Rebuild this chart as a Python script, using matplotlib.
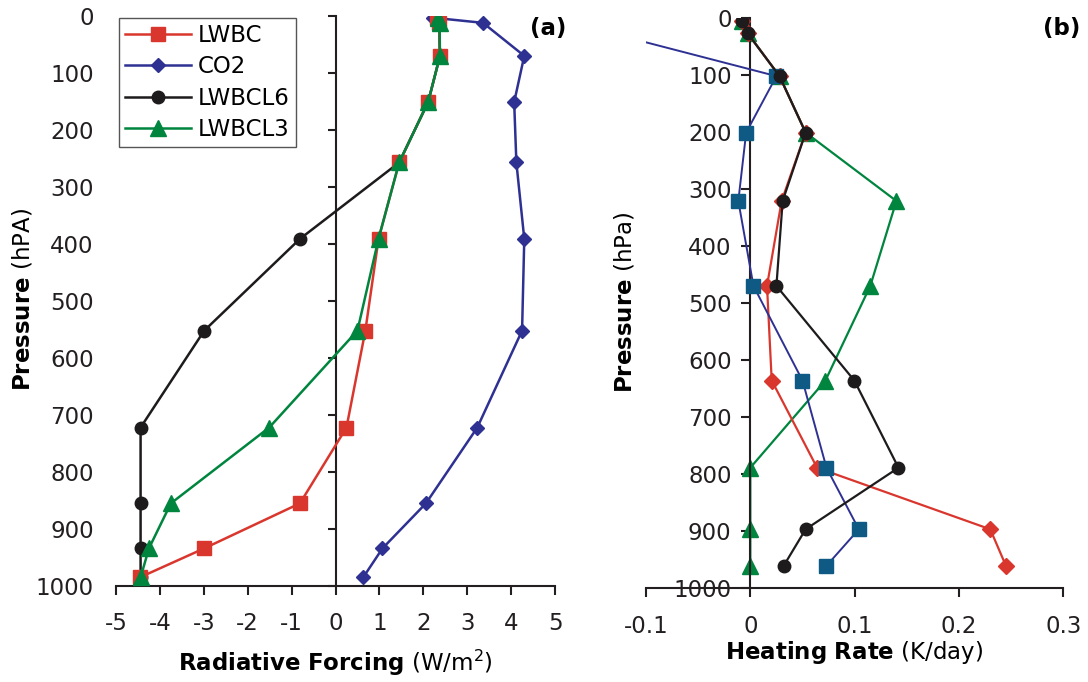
import matplotlib
matplotlib.use("Agg")
import matplotlib.pyplot as plt
from matplotlib.ticker import FixedLocator, FixedFormatter

plt.rcParams['font.family'] = ['DejaVu Sans']
plt.rcParams['mathtext.fontset'] = 'dejavusans'

# ---------------- data: panel (a) radiative forcing ----------------
p_a = [3, 12, 70, 151, 257, 391, 552, 722, 855, 934, 985]
lwbc_a = [2.32, 2.36, 2.38, 2.11, 1.45, 0.98, 0.68, 0.25, -0.81, -2.99, -4.46]
co2_a = [2.22, 3.36, 4.30, 4.07, 4.12, 4.30, 4.25, 3.23, 2.06, 1.07, 0.63]
lwbcl6_a = [2.32, 2.36, 2.38, 2.11, 1.45, -0.81, -2.99, -4.44, -4.44, -4.44, -4.44]
lwbcl3_a = [2.34, 2.37, 2.38, 2.11, 1.45, 0.98, 0.50, -1.51, -3.75, -4.25, -4.44]

# ---------------- data: panel (b) heating rate ----------------
p_b = [5, 27, 102, 201, 321, 470, 636, 789, 897, 961]
lwbc_b = [-0.008, -0.0025, 0.028, 0.053, 0.030, 0.016, 0.0205, 0.064, 0.230, 0.245]
co2_b = [-0.20, -0.133, 0.025, -0.004, -0.0115, 0.003, 0.050, 0.073, 0.104, 0.073]
lwbcl6_b = [-0.008, -0.0025, 0.028, 0.053, 0.031, 0.025, 0.0997, 0.142, 0.053, 0.032]
lwbcl3_b = [-0.008, -0.0025, 0.028, 0.053, 0.140, 0.115, 0.072, 0.0, 0.0, 0.0]

# ---------------- ticks ----------------
yticks = [0, 100, 200, 300, 400, 500, 600, 700, 800, 900, 1000]
ytick_labels = ['0', '100', '200', '300', '400', '500', '600', '700', '800', '900', '1000']
xticks_a = [-5, -4, -3, -2, -1, 0, 1, 2, 3, 4, 5]
xtick_labels_a = ['-5', '-4', '-3', '-2', '-1', '0', '1', '2', '3', '4', '5']
xticks_b = [-0.1, 0.0, 0.1, 0.2, 0.3]
xtick_labels_b = ['-0.1', '0', '0.1', '0.2', '0.3']

RED = '#d9372e'
BLUE = '#2e3192'
BLACK = '#1e1b1c'
GREEN = '#00853f'
TEAL = '#0f5a84'
INK = '#231f20'

FS = 16.5
W, H = 1088, 682
fig = plt.figure(figsize=(W / 100, H / 100), dpi=100)

def rect(l, t, r, b):
    return [l / W, 1 - b / H, (r - l) / W, (b - t) / H]

ax1 = fig.add_axes(rect(116, 16, 555, 586))
ax2 = fig.add_axes(rect(646, 18, 1063.3, 588))

for ax in (ax1, ax2):
    ax.set_ylim(1000, 0)
    for s in ('top', 'right'):
        ax.spines[s].set_visible(False)
    ax.spines['bottom'].set_linewidth(1.5)
    ax.spines['left'].set_linewidth(1.5)
    ax.spines['bottom'].set_color(INK)
    ax.spines['left'].set_color(INK)
    ax.patch.set_alpha(0)

# ---------- panel (a) ----------
lw = 1.8
ax1.plot(lwbc_a, p_a, color=RED, marker='s', ms=10, lw=lw, label='LWBC', zorder=4)
ax1.plot(co2_a, p_a, color=BLUE, marker='D', ms=7.5, lw=lw, label='CO2', zorder=2)
ax1.plot(lwbcl6_a, p_a, color=BLACK, marker='o', ms=9, lw=lw, label='LWBCL6', zorder=3)
ax1.plot(lwbcl3_a, p_a, color=GREEN, marker='^', ms=11, lw=lw, label='LWBCL3', zorder=5)
ax1.set_xlim(-5, 5)
ax1.xaxis.set_major_locator(FixedLocator(xticks_a))
ax1.xaxis.set_major_formatter(FixedFormatter(xtick_labels_a))
ax1.yaxis.set_major_locator(FixedLocator(yticks))
ax1.yaxis.set_major_formatter(FixedFormatter(ytick_labels))
ax1.spines['left'].set_visible(False)
ax1.tick_params(axis='y', length=0, pad=16, labelsize=FS, colors=INK)
ax1.tick_params(axis='x', direction='out', length=6.5, width=1.5, pad=12, labelsize=FS,
                colors=INK)
sec = ax1.secondary_yaxis(0, transform=ax1.transData)
sec.yaxis.set_major_locator(FixedLocator(yticks))
sec.tick_params(axis='y', direction='out', length=6, width=1.5, labelleft=False,
                colors=INK)
sec.spines['left'].set_linewidth(1.5)
sec.spines['left'].set_color(INK)

ax1.set_xlabel(r'$\mathbf{Radiative\ Forcing}$ (W/m$^2$)', fontsize=FS)
ax1.xaxis.set_label_coords(335.5 / W, 1 - 648 / H, transform=fig.transFigure)
ax1.set_ylabel(r'$\mathbf{Pressure}$ (hPA)', fontsize=FS)
ax1.yaxis.set_label_coords(35 / W, 1 - 300 / H, transform=fig.transFigure)
fig.text(566 / W, 1 - 29 / H, '(a)', fontsize=FS, fontweight='bold',
         ha='right', va='center')

leg = ax1.legend(loc='upper left', bbox_to_anchor=(0.007, 0.996), borderaxespad=0,
                 fontsize=FS, frameon=True, fancybox=False, edgecolor='#555555',
                 framealpha=1, handlelength=2.9, handletextpad=0.3, labelspacing=0.37,
                 borderpad=0.25)
leg.get_frame().set_linewidth(1.0)

# ---------- panel (b) ----------
lwb = 1.6
ax2.plot(lwbcl3_b, p_b, color=GREEN, marker='^', ms=11, lw=lwb, zorder=2)
ax2.plot(lwbc_b, p_b, color=RED, marker='D', ms=8.5, lw=lwb, zorder=3)
ax2.plot(co2_b, p_b, color=BLUE, marker='s', ms=10, mfc=TEAL, mec=TEAL, lw=1.4, zorder=4)
ax2.plot(lwbcl6_b, p_b, color=BLACK, marker='o', ms=9, lw=lwb, zorder=5)
ax2.set_xlim(-0.1, 0.3)
ax2.xaxis.set_major_locator(FixedLocator(xticks_b))
ax2.xaxis.set_major_formatter(FixedFormatter(xtick_labels_b))
ax2.yaxis.set_major_locator(FixedLocator(yticks))
ax2.yaxis.set_major_formatter(FixedFormatter(ytick_labels))
ax2.spines['left'].set_position(('data', 0))
ax2.tick_params(axis='y', direction='out', length=6.5, width=1.5, pad=7, labelsize=FS,
                colors=INK)
ax2.tick_params(axis='x', direction='out', length=6.5, width=1.5, pad=13, labelsize=FS,
                colors=INK)
ax2.set_xlabel(r'$\mathbf{Heating\ Rate}$ (K/day)', fontsize=FS)
ax2.xaxis.set_label_coords(854 / W, 1 - 639 / H, transform=fig.transFigure)
ax2.set_ylabel(r'$\mathbf{Pressure}$ (hPa)', fontsize=FS)
ax2.yaxis.set_label_coords(637 / W, 1 - 302 / H, transform=fig.transFigure)
fig.text(1080 / W, 1 - 29 / H, '(b)', fontsize=FS, fontweight='bold',
         ha='right', va='center')

fig.savefig('out.png', dpi=100)
